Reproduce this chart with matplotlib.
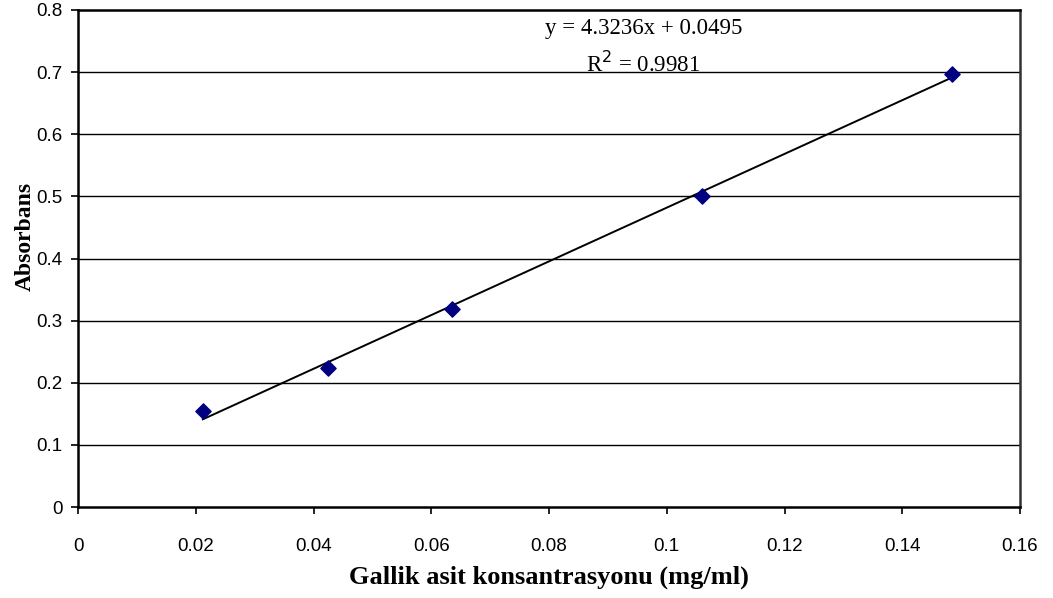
import numpy as np
import matplotlib
matplotlib.use("Agg")
import matplotlib.pyplot as plt

# data
concentration = [0.0212, 0.0424, 0.0636, 0.1060, 0.1484]
absorbance = [0.155, 0.223, 0.318, 0.501, 0.697]
slope, intercept = 4.3236, 0.0495
x_ticks = [0, 0.02, 0.04, 0.06, 0.08, 0.1, 0.12, 0.14, 0.16]
x_ticklabels = ["0", "0.02", "0.04", "0.06", "0.08", "0.1", "0.12", "0.14", "0.16"]
y_ticks = [0, 0.1, 0.2, 0.3, 0.4, 0.5, 0.6, 0.7, 0.8]
y_ticklabels = ["0", "0.1", "0.2", "0.3", "0.4", "0.5", "0.6", "0.7", "0.8"]

fig = plt.figure(figsize=(10.53, 5.98), dpi=100)
ax = fig.add_axes([78 / 1053, 91 / 598, 942 / 1053, 497 / 598])

ax.set_xlim(0, 0.16)
ax.set_ylim(0, 0.8)
ax.set_xticks(x_ticks)
ax.set_xticklabels(x_ticklabels, fontfamily="Liberation Sans", fontsize=13.5)
ax.set_yticks(y_ticks)
ax.set_yticklabels(y_ticklabels, fontfamily="Liberation Sans", fontsize=13.5)
ax.tick_params(direction="out", length=5, width=1.2, pad=6)
ax.tick_params(axis="x", pad=17)

for y in y_ticks[1:-1]:
    ax.axhline(y, color="black", linewidth=1.0, zorder=1)

for side in ["left", "bottom", "top"]:
    ax.spines[side].set_linewidth(1.8)
ax.spines["right"].set_linewidth(1.8)
ax.spines["right"].set_color("#333333")

# trend line
fit_x = np.array([concentration[0], concentration[-1]])
ax.plot(fit_x, slope * fit_x + intercept, color="black", linewidth=1.4, zorder=2)

ax.scatter(concentration, absorbance, marker="D", s=60, color="#000080", zorder=3)

ax.text(0.096, 0.771, "y = 4.3236x + 0.0495", ha="center", va="center",
        fontfamily="Liberation Serif", fontsize=16.5)
ax.text(0.096, 0.713, "R$^2$ = 0.9981", ha="center", va="center",
        fontfamily="Liberation Serif", fontsize=16.5)

ax.set_xlabel("Gallik asit konsantrasyonu (mg/ml)", fontfamily="Liberation Serif",
              fontweight="bold", fontsize=19, labelpad=8)
ax.set_ylabel("Absorbans", fontfamily="Liberation Serif", fontweight="bold",
              fontsize=17)
ax.yaxis.set_label_coords(-42 / 942, 0.545)

fig.savefig("out.png", dpi=100)
